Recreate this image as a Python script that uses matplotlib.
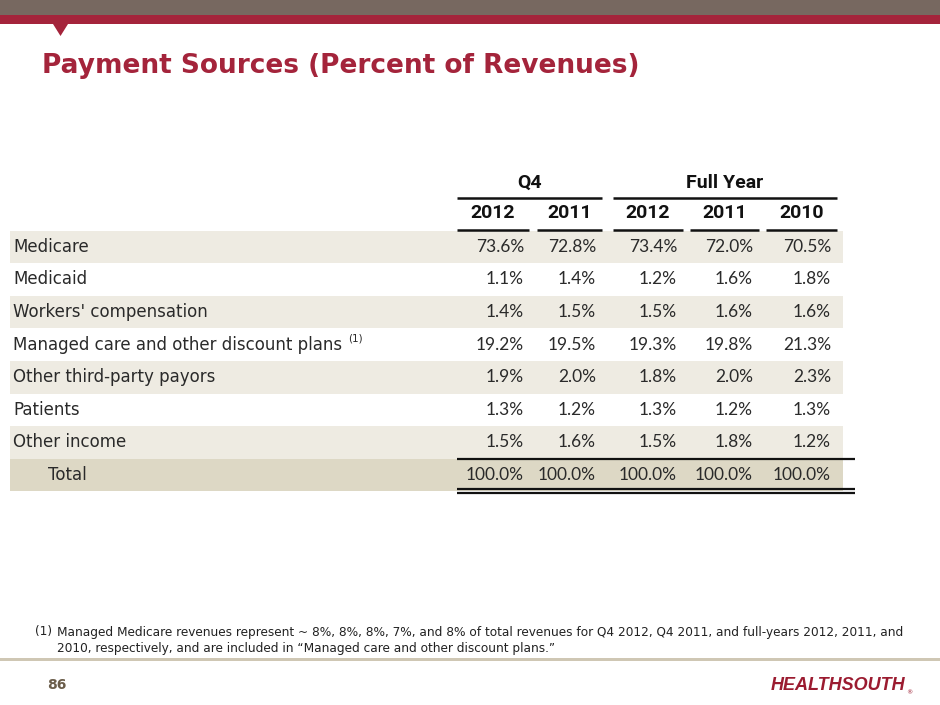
import matplotlib
matplotlib.use("Agg")
import matplotlib.pyplot as plt
from matplotlib import font_manager
from matplotlib.patches import Rectangle, Polygon

# Table data
payers = ["Medicare", "Medicaid", "Workers' compensation",
          "Managed care and other discount plans", "Other third-party payors",
          "Patients", "Other income"]
q4_2012 = ["73.6%", "1.1%", "1.4%", "19.2%", "1.9%", "1.3%", "1.5%"]
q4_2011 = ["72.8%", "1.4%", "1.5%", "19.5%", "2.0%", "1.2%", "1.6%"]
fy_2012 = ["73.4%", "1.2%", "1.5%", "19.3%", "1.8%", "1.3%", "1.5%"]
fy_2011 = ["72.0%", "1.6%", "1.6%", "19.8%", "2.0%", "1.2%", "1.8%"]
fy_2010 = ["70.5%", "1.8%", "1.6%", "21.3%", "2.3%", "1.3%", "1.2%"]
totals = ["100.0%", "100.0%", "100.0%", "100.0%", "100.0%"]
years = ["2012", "2011", "2012", "2011", "2010"]
groups = ["Q4", "Full Year"]

title = "Payment Sources (Percent of Revenues)"
footnote = ("Managed Medicare revenues represent ~ 8%, 8%, 8%, 7%, and 8% of total revenues for Q4 2012, Q4 2011, and full-years 2012, 2011, and\n"
            "2010, respectively, and are included in \u201cManaged care and other discount plans.\u201d")


def pick_font(names):
    installed = {f.name for f in font_manager.fontManager.ttflist}
    for n in names:
        if n in installed:
            return n
    return "DejaVu Sans"


narrow = pick_font(["Liberation Sans Narrow", "DejaVu Sans Condensed", "Roboto"])
nums = pick_font(["Lato", "Open Sans", "DejaVu Sans"])

crimson = "#a4243b"
band = "#eeebe2"
band_total = "#ddd8c5"
ink = "#2a2a2a"

fig = plt.figure(figsize=(9.4, 7.05), dpi=100)
ax = fig.add_axes([0, 0, 1, 1])
ax.set_xlim(0, 940)
ax.set_ylim(705, 0)
ax.axis("off")

# header bars
ax.add_patch(Rectangle((0, 0), 940, 15, color="#776860", lw=0))
ax.add_patch(Rectangle((0, 15), 940, 9, color=crimson, lw=0))
ax.add_patch(Polygon([(53, 24), (68, 24), (60.5, 36)], closed=True, color=crimson, lw=0))
ax.text(42, 66, title, fontsize=19, fontweight="bold", color=crimson,
        family="DejaVu Sans", va="center", ha="left")

# column geometry
col_left = [457, 537, 613, 690, 766]
col_right = [529, 602, 683, 759, 837]
val_right = [524, 596, 677, 753, 831]
row_top = 230.5
row_h = 32.6

# group headers
grp_span = [(457, 602), (613, 837)]
for g, (x0, x1) in zip(groups, grp_span):
    ax.text((x0 + x1) / 2, 183, g, fontsize=14, fontweight="bold", family=narrow,
            color="#111111", ha="center", va="center")
    ax.plot([x0, x1], [198, 198], color="#111111", lw=1.8, solid_capstyle="butt")
for y, x0, x1 in zip(years, col_left, col_right):
    ax.text((x0 + x1) / 2, 213, y, fontsize=14, fontweight="bold", family=narrow,
            color="#111111", ha="center", va="center")
    ax.plot([x0, x1], [230, 230], color="#111111", lw=1.8, solid_capstyle="butt")

# body rows
cols = [q4_2012, q4_2011, fy_2012, fy_2011, fy_2010]
for i, name in enumerate(payers):
    top = row_top + i * row_h
    if i % 2 == 0:
        ax.add_patch(Rectangle((10, top), 833, row_h, color=band, lw=0, zorder=0))
    yc = top + row_h / 2
    ax.text(13, yc, name, fontsize=12, color=ink, family="DejaVu Sans",
            ha="left", va="center")
    if name.startswith("Managed"):
        ax.text(348, yc - 6, "(1)", fontsize=7.5, color=ink, family="DejaVu Sans",
                ha="left", va="center")
    for c, xr in zip(cols, val_right):
        ax.text(xr, yc, c[i], fontsize=12.5, color=ink, family=nums,
                ha="right", va="center")

# total row
top = row_top + len(payers) * row_h
ax.add_patch(Rectangle((10, top), 833, row_h, color=band_total, lw=0, zorder=0))
yc = top + row_h / 2
ax.text(48, yc, "Total", fontsize=12, color=ink, family="DejaVu Sans",
        ha="left", va="center")
for t, xr in zip(totals, val_right):
    ax.text(xr, yc, t, fontsize=12.5, color=ink, family=nums, ha="right", va="center")
ax.plot([457, 855], [459, 459], color="#111111", lw=1.6, solid_capstyle="butt")
ax.plot([457, 855], [489, 489], color="#111111", lw=1.6, solid_capstyle="butt")
ax.plot([457, 855], [492.5, 492.5], color="#111111", lw=1.6, solid_capstyle="butt")

# footnote
ax.text(35, 632, "(1)", fontsize=8.7, color="#222222", family="DejaVu Sans",
        ha="left", va="center")
ax.text(57, 640.5, footnote, fontsize=8.7, color="#222222", family="DejaVu Sans",
        ha="left", va="center", linespacing=1.3)

# footer
ax.add_patch(Rectangle((0, 657.5), 940, 3, color="#cfc7b4", lw=0))
ax.text(47, 685, "86", fontsize=10, fontweight="bold", color="#6b5d4a",
        family="DejaVu Sans", ha="left", va="center")
ax.text(771, 685, "HEALTHSOUTH", fontsize=13, fontweight="bold", fontstyle="italic",
        color="#9b1b30", family="Liberation Sans", ha="left", va="center")
ax.text(906, 693, "\u00ae", fontsize=4.5, color="#9b1b30", family="DejaVu Sans",
        ha="left", va="center")

fig.savefig("out.png", dpi=100)
